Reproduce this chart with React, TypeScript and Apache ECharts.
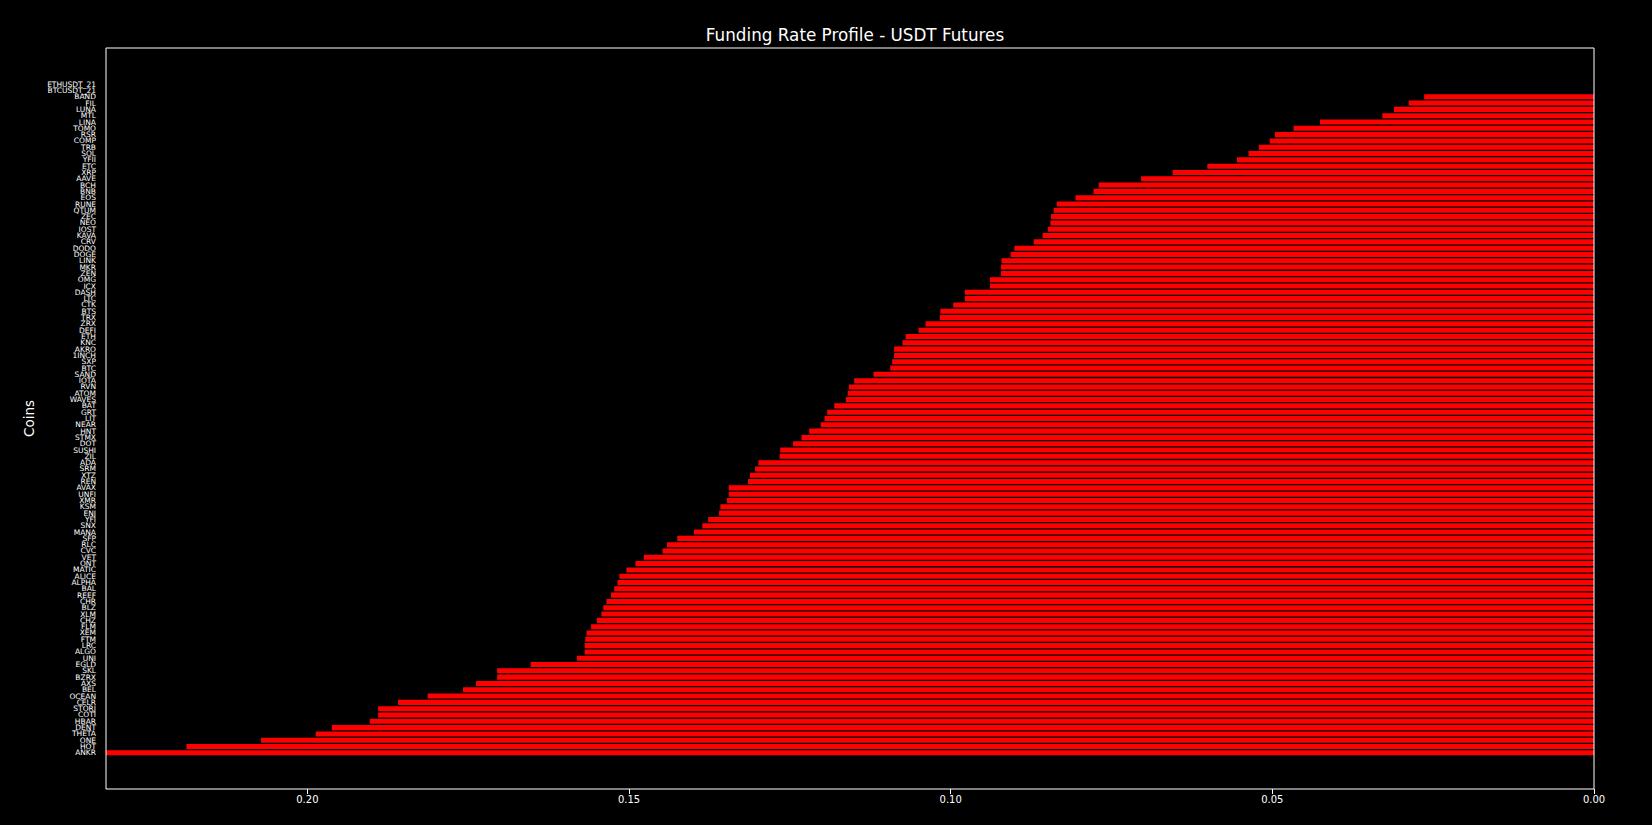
import React, { useEffect, useRef } from "react";
import * as echarts from "echarts";

// Categories listed top-to-bottom as they appear in the chart
const coins = [
  "ETHUSDT_21", "BTCUSDT_21", "BAND", "FIL", "LUNA", "MTL", "LINA", "TOMO", "RSR", "COMP",
  "TRB", "SOL", "YFII", "ETC", "XRP", "AAVE", "BCH", "BNB", "EOS", "RUNE",
  "QTUM", "ZEC", "NEO", "IOST", "KAVA", "CRV", "DODO", "DOGE", "LINK", "MKR",
  "ZEN", "OMG", "ICX", "DASH", "LTC", "CTK", "BTS", "TRX", "ZRX", "DEFI",
  "ETH", "KNC", "AKRO", "1INCH", "SXP", "BTC", "SAND", "IOTA", "RVN", "ATOM",
  "WAVES", "BAT", "GRT", "LIT", "NEAR", "HNT", "STMX", "DOT", "SUSHI", "ZIL",
  "ADA", "SRM", "XTZ", "REN", "AVAX", "UNFI", "XMR", "KSM", "ENJ", "YFI",
  "SNX", "MANA", "SFP", "RLC", "CVC", "VET", "ONT", "MATIC", "ALICE", "ALPHA",
  "BAL", "REEF", "CHR", "BLZ", "XLM", "CHZ", "FLM", "XEM", "FTM", "LRC",
  "ALGO", "UNI", "EGLD", "SKL", "BZRX", "AXS", "BEL", "OCEAN", "CELR", "STORJ",
  "COTI", "HBAR", "DENT", "THETA", "ONE", "HOT", "ANKR",
];

const fundingRates = [
  0.0, 0.0, 0.0264, 0.0288, 0.0311, 0.0329, 0.0426, 0.0467, 0.0496, 0.0504,
  0.0521, 0.0537, 0.0555, 0.0601, 0.0655, 0.0704, 0.077, 0.0778, 0.0806, 0.0835,
  0.084, 0.0844, 0.0845, 0.0849, 0.0857, 0.0871, 0.0901, 0.0907, 0.0921, 0.0922,
  0.0922, 0.0939, 0.0939, 0.0978, 0.0978, 0.0996, 0.1016, 0.1017, 0.1039, 0.105,
  0.107, 0.1075, 0.1088, 0.1088, 0.1091, 0.1094, 0.112, 0.115, 0.1158, 0.116,
  0.1163, 0.1181, 0.1192, 0.1196, 0.1202, 0.122, 0.1232, 0.1245, 0.1265, 0.1266,
  0.1299, 0.1304, 0.1312, 0.1315, 0.1345, 0.1345, 0.1348, 0.1358, 0.136, 0.1377,
  0.1386, 0.1399, 0.1425, 0.1441, 0.1448, 0.1477, 0.149, 0.1504, 0.1515, 0.1518,
  0.1523, 0.1528, 0.1535, 0.154, 0.1543, 0.155, 0.1559, 0.1566, 0.1568, 0.1569,
  0.1569, 0.1581, 0.1653, 0.1705, 0.1705, 0.1738, 0.1758, 0.1813, 0.1859, 0.189,
  0.189, 0.1903, 0.1962, 0.1987, 0.2072, 0.2188, 0.2313,
];

const xTicks = [0, 0.05, 0.1, 0.15, 0.2];
const xMax = 0.2313;

export default function App() {
  const ref = useRef<HTMLDivElement>(null);
  useEffect(() => {
    const chart = echarts.init(ref.current!, null, { renderer: "svg" });
    chart.setOption({
      animation: false,
      backgroundColor: "#000000",
      textStyle: { fontFamily: "DejaVu Sans" },
      title: {
        text: "Funding Rate Profile - USDT Futures",
        left: 850,
        top: 21,
        textAlign: "center",
        textStyle: { color: "#ffffff", fontSize: 16.8, fontWeight: "normal", fontFamily: "DejaVu Sans" },
      },
      grid: { left: 106, right: 58, top: 81, bottom: 69 },
      graphic: [
        {
          type: "rect",
          shape: { x: 106, y: 48, width: 1488, height: 741 },
          style: { fill: "none", stroke: "#ffffff", lineWidth: 1 },
          silent: true,
          z: 10,
        },
      ],
      xAxis: {
        type: "value",
        inverse: true,
        min: 0,
        max: xMax,
        position: "bottom",
        offset: 33,
        axisLine: { show: false },
        splitLine: { show: false },
        axisTick: {
          show: true,
          length: 5,
          customValues: xTicks,
          lineStyle: { color: "#ffffff", width: 1 },
        },
        axisLabel: {
          customValues: xTicks,
          formatter: (v: number) => v.toFixed(2),
          color: "#ffffff",
          fontSize: 10,
          margin: 5,
          fontFamily: "DejaVu Sans",
        },
      },
      yAxis: {
        type: "category",
        inverse: true,
        data: coins,
        name: "Coins",
        nameLocation: "middle",
        nameGap: 70,
        nameTextStyle: { color: "#ffffff", fontSize: 13.5, fontFamily: "DejaVu Sans" },
        axisLine: { show: false },
        axisTick: {
          show: true,
          alignWithLabel: true,
          interval: (index: number) => index > 1,
          length: 5,
          lineStyle: { color: "#ffffff", width: 1 },
        },
        axisLabel: {
          interval: 0,
          color: "#ffffff",
          fontSize: 7.5,
          margin: 10,
          fontFamily: "DejaVu Sans",
        },
      },
      series: [
        {
          type: "bar",
          data: fundingRates,
          barWidth: "80%",
          itemStyle: { color: "#ff0000" },
        },
      ],
    });
    return () => chart.dispose();
  }, []);
  return (
    <div
      ref={ref}
      style={{ position: "absolute", left: 0, top: 0, width: 1652, height: 825 }}
    />
  );
}
